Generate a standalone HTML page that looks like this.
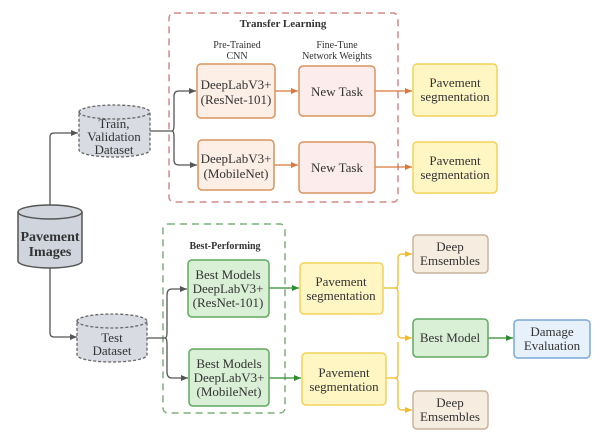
<!DOCTYPE html>
<html><head><meta charset="utf-8"><style>
body{margin:0;background:#fff;}
svg text{font-family:"Liberation Serif","DejaVu Serif",serif;fill:#333;text-anchor:middle;}
</style></head><body>
<svg width="600" height="433" viewBox="0 0 600 433" xmlns="http://www.w3.org/2000/svg">
<defs>
<marker id="ag" markerWidth="8" markerHeight="8" refX="7" refY="4" orient="auto" markerUnits="userSpaceOnUse"><path d="M0,1 L7,4 L0,7Z" fill="#555"/></marker>
<marker id="ao" markerWidth="8" markerHeight="8" refX="7" refY="4" orient="auto" markerUnits="userSpaceOnUse"><path d="M0,1 L7,4 L0,7Z" fill="#d9783a"/></marker>
<marker id="agr" markerWidth="8" markerHeight="8" refX="7" refY="4" orient="auto" markerUnits="userSpaceOnUse"><path d="M0,1 L7,4 L0,7Z" fill="#2e8b2e"/></marker>
<marker id="ay" markerWidth="8" markerHeight="8" refX="7" refY="4" orient="auto" markerUnits="userSpaceOnUse"><path d="M0,1 L7,4 L0,7Z" fill="#f2b928"/></marker>
</defs>
<rect x="169" y="13" width="229" height="189" rx="5" fill="none" stroke="#d08a86" stroke-width="1.5" stroke-dasharray="7,5"/>
<rect x="163" y="224" width="122" height="189" rx="5" fill="none" stroke="#7ab07a" stroke-width="1.5" stroke-dasharray="7,5"/>
<text x="283" y="27" font-size="11" font-weight="bold">Transfer Learning</text>
<text x="237" y="48" font-size="10">Pre-Trained</text><text x="237" y="59" font-size="10">CNN</text>
<text x="337" y="48" font-size="10">Fine-Tune</text><text x="337" y="59" font-size="10">Network Weights</text>
<text x="225" y="249" font-size="10" font-weight="bold">Best-Performing</text>
<g fill="none" stroke="#555" stroke-width="1.3">
<path d="M50,205 V137 Q50,133 54,133 H78" marker-end="url(#ag)"/>
<path d="M50,268 V333 Q50,337 54,337 H77" marker-end="url(#ag)"/>
<path d="M150,131 H172 Q174,131 174,125 V96 Q174,91 179,91 H196" marker-end="url(#ag)"/>
<path d="M172,131 Q174,131 174,137 V160 Q174,165 179,165 H197" marker-end="url(#ag)"/>
<path d="M147,338 H165 Q167,338 167,332 V295 Q167,289 172,289 H187" marker-end="url(#ag)"/>
<path d="M165,338 Q167,338 167,344 V372 Q167,378 172,378 H188" marker-end="url(#ag)"/>
</g>
<g fill="none" stroke="#d9783a" stroke-width="1.3">
<path d="M275,91 H298" marker-end="url(#ao)"/>
<path d="M274,165 H298" marker-end="url(#ao)"/>
<path d="M375,91 H412" marker-end="url(#ao)"/>
<path d="M375,167 H412" marker-end="url(#ao)"/>
</g>
<g fill="none" stroke="#2e8b2e" stroke-width="1.3">
<path d="M269,288 H299" marker-end="url(#agr)"/>
<path d="M269,378 H301" marker-end="url(#agr)"/>
<path d="M488,338 H513" marker-end="url(#agr)"/>
</g>
<g fill="none" stroke="#f2b928" stroke-width="1.3">
<path d="M383,288 H395 Q398,288 398,284 V258 Q398,254 402,254 H412" marker-end="url(#ay)"/>
<path d="M395,288 Q398,288 398,292 V334 Q398,338 402,338 H412" marker-end="url(#ay)"/>
<path d="M386,378 H395 Q398,378 398,374 V342"/>
<path d="M395,378 Q398,378 398,382 V406 Q398,410 402,410 H412" marker-end="url(#ay)"/>
</g>
<g stroke="#666" stroke-width="1.3" stroke-dasharray="3,2" fill="#d8dbe2">
<path d="M79,112 A35.5,7 0 0 1 150,112 V150 A35.5,7 0 0 1 79,150 Z"/>
<path d="M79,112 A35.5,7 0 0 0 150,112" fill="none"/>
<path d="M77,321 A35,7 0 0 1 147,321 V355 A35,7 0 0 1 77,355 Z"/>
<path d="M77,321 A35,7 0 0 0 147,321" fill="none"/>
</g>
<path d="M18,212 A32,7 0 0 1 82,212 V261 A32,7 0 0 1 18,261 Z" fill="#d0d4dd" stroke="#555" stroke-width="1.5"/>
<path d="M18,212 A32,7 0 0 0 82,212" fill="none" stroke="#555" stroke-width="1.5"/>
<text x="114" y="128" font-size="13">Train,</text><text x="114" y="141" font-size="13">Validation</text><text x="114" y="154" font-size="13">Dataset</text>
<text x="112" y="342" font-size="13">Test</text><text x="112" y="355" font-size="13">Dataset</text>
<text x="50" y="241" font-size="14" font-weight="bold" fill="#222">Pavement</text><text x="50" y="256" font-size="14" font-weight="bold" fill="#222">Images</text>
<g fill="#fdeee6" stroke="#d9945e" stroke-width="1.5">
<rect x="197" y="64" width="78" height="54" rx="4"/>
<rect x="198" y="140" width="76" height="50" rx="4"/>
</g>
<g fill="#fcecec" stroke="#d9945e" stroke-width="1.5">
<rect x="299" y="66" width="76" height="50" rx="4"/>
<rect x="299" y="142" width="76" height="51" rx="4"/>
</g>
<text x="236" y="89" font-size="13">DeepLabV3+</text><text x="236" y="104" font-size="13">(ResNet-101)</text>
<text x="236" y="163" font-size="13">DeepLabV3+</text><text x="236" y="178" font-size="13">(MobileNet)</text>
<text x="337" y="96" font-size="13">New Task</text><text x="337" y="172" font-size="13">New Task</text>
<g fill="#fff6c4" stroke="#f2d25a" stroke-width="1.5">
<rect x="413" y="64" width="84" height="52" rx="4"/>
<rect x="413" y="142" width="84" height="51" rx="4"/>
<rect x="300" y="263" width="83" height="51" rx="4"/>
<rect x="302" y="353" width="84" height="52" rx="4"/>
</g>
<text x="455" y="87" font-size="13">Pavement</text><text x="455" y="101" font-size="13">segmentation</text>
<text x="455" y="165" font-size="13">Pavement</text><text x="455" y="179" font-size="13">segmentation</text>
<text x="341" y="286" font-size="13">Pavement</text><text x="341" y="300" font-size="13">segmentation</text>
<text x="344" y="377" font-size="13">Pavement</text><text x="344" y="391" font-size="13">segmentation</text>
<g fill="#d9efd6" stroke="#5fa85f" stroke-width="1.5">
<rect x="188" y="260" width="81" height="57" rx="4"/>
<rect x="189" y="349" width="80" height="57" rx="4"/>
<rect x="413" y="319" width="75" height="38" rx="4"/>
</g>
<text x="228" y="279" font-size="13">Best Models</text><text x="228" y="293" font-size="13">DeepLabV3+</text><text x="228" y="307" font-size="13">(ResNet-101)</text>
<text x="229" y="368" font-size="13">Best Models</text><text x="229" y="382" font-size="13">DeepLabV3+</text><text x="229" y="396" font-size="13">(MobileNet)</text>
<text x="450" y="342" font-size="13">Best Model</text>
<g fill="#f7ece0" stroke="#c9b49a" stroke-width="1.5">
<rect x="413" y="235" width="75" height="38" rx="4"/>
<rect x="413" y="391" width="75" height="38" rx="4"/>
</g>
<text x="450" y="251" font-size="13">Deep</text><text x="450" y="265" font-size="13">Emsembles</text>
<text x="450" y="407" font-size="13">Deep</text><text x="450" y="421" font-size="13">Emsembles</text>
<rect x="514" y="320" width="76" height="38" rx="4" fill="#e6f1fb" stroke="#7aa8d8" stroke-width="1.5"/>
<text x="552" y="336" font-size="13">Damage</text><text x="552" y="350" font-size="13">Evaluation</text>
</svg>
</body></html>
